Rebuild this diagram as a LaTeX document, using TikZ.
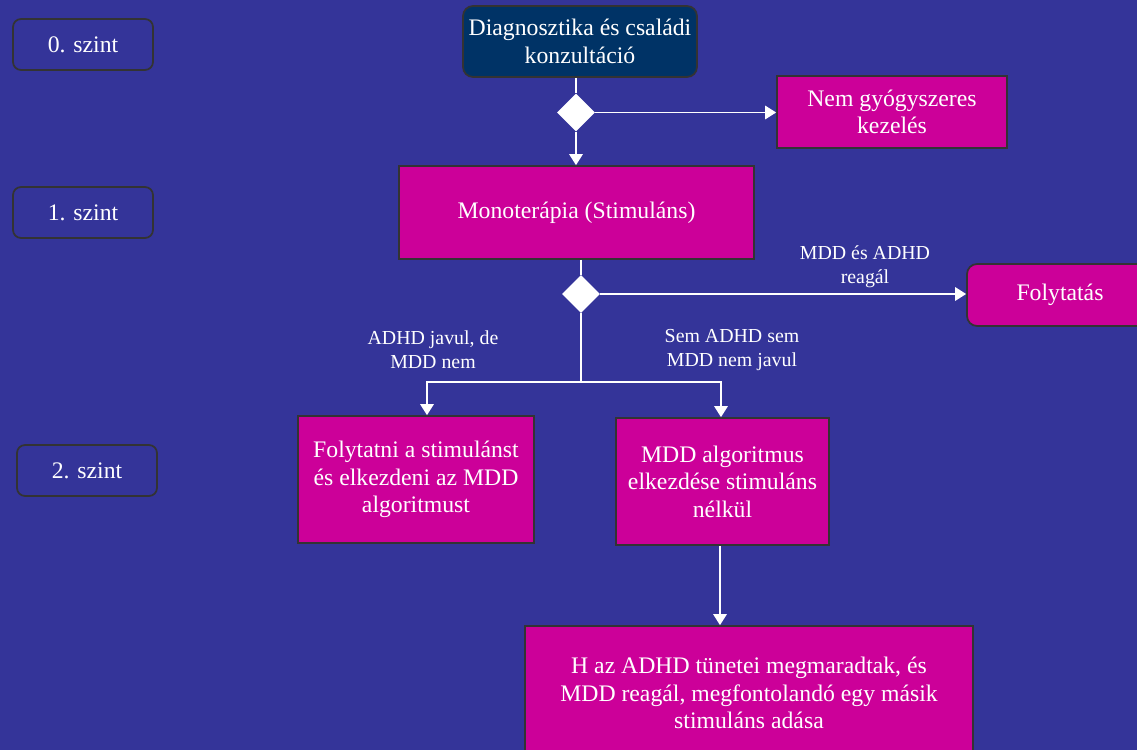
\documentclass[tikz,border=0pt]{standalone}
\usepackage{fontspec}
\setmainfont{Liberation Serif}
\usetikzlibrary{shapes.geometric,arrows.meta}
\definecolor{bgblue}{HTML}{343499}
\definecolor{magbox}{HTML}{CC0099}
\definecolor{navybox}{HTML}{003366}
\definecolor{edgegray}{HTML}{333333}

\begin{document}
\begin{tikzpicture}[x=0.02cm,y=-0.02cm,
    box/.style={draw=edgegray, line width=1pt, fill=magbox, text=white, align=center,
                font=\fontsize{13.5}{15.6}\selectfont, inner sep=0pt},
    lvl/.style={box, fill=bgblue, rounded corners=0.16cm, minimum width=2.8cm, minimum height=1.02cm},
    choice/.style={diamond, fill=white, minimum width=0.76cm, minimum height=0.76cm, inner sep=0pt},
    lbl/.style={text=white, align=center, font=\fontsize{11.3}{13.7}\selectfont, inner sep=0pt},
    line/.style={draw=white, line width=0.9pt},
    arr/.style={line, -{Triangle[width=0.27cm,length=0.22cm]}}]
                    \useasboundingbox (0,0) rectangle (1137,750);
                    \clip (0,0) rectangle (1137,750);
                    \fill[bgblue] (0,0) rectangle (1137,750);
                    % Nodes
                    \node[lvl] (szint0) at (83,44.5) {0. szint};
                    \node[lvl] (szint1) at (83,212.5) {1. szint};
                    \node[lvl] (szint2) at (87,470.5) {2. szint};
                    \node[box, fill=navybox, rounded corners=0.2cm, minimum width=4.68cm, minimum height=1.42cm] (diag) at (580,41.5) {Diagnosztika és családi\\konzultáció};
                    \node[choice] (dA) at (576,112.5) {};
                    \node[box, minimum width=4.6cm, minimum height=1.44cm] (nem) at (892,112) {Nem gyógyszeres\\kezelés};
                    \node[box, minimum width=7.1cm, minimum height=1.86cm] (mono) at (576.5,212.5) {Monoterápia (Stimuláns)};
                    \node[choice] (dB) at (581,294) {};
                    \node[box, rounded corners=0.2cm, minimum width=3.72cm, minimum height=1.24cm] (folyt) at (1060,295) {Folytatás};
                    \node[box, minimum width=4.72cm, minimum height=2.54cm] (stim) at (416,479.5) {Folytatni a stimulánst\\és elkezdeni az MDD\\algoritmust};
                    \node[box, minimum width=4.26cm, minimum height=2.54cm] (mddalg) at (722.5,481.5) {MDD algoritmus\\elkezdése stimuláns\\nélkül};
                    \node[box, minimum width=8.96cm, minimum height=2.68cm] (masik) at (749,693) {H az ADHD tünetei megmaradtak, és\\MDD reagál, megfontolandó egy másik\\stimuláns adása};
                    % Labels
                    \node[lbl] (reagal) at (865,267) {MDD és ADHD\\reagál};
                    \node[lbl] (javul) at (433,350) {ADHD javul, de\\MDD nem};
                    \node[lbl] (semjavul) at (732,350) {Sem ADHD sem\\MDD nem javul};
                    % Edges
                    \coordinate (split) at (581,382);
                    \coordinate (jL) at (427,382);
                    \coordinate (jR) at (721,382);
                    \draw[line] (diag.south -| dA) -- (dA.north);
                    \draw[arr] (dA.east) -- (dA.east -| nem.west);
                    \draw[arr] (dA.south) -- (dA.south |- mono.north);
                    \draw[line] (mono.south -| dB) -- (dB.north);
                    \draw[arr] (dB.east) -- (dB.east -| folyt.west);
                    \draw[line] (dB.south) -- (split);
                    \draw[arr] (split) -| (jL |- stim.north);
                    \draw[arr] (split) -| (jR |- mddalg.north);
                    \draw[arr] (mddalg.south -| 720,0) -- (masik.north -| 720,0);
                \end{tikzpicture}
\end{document}
